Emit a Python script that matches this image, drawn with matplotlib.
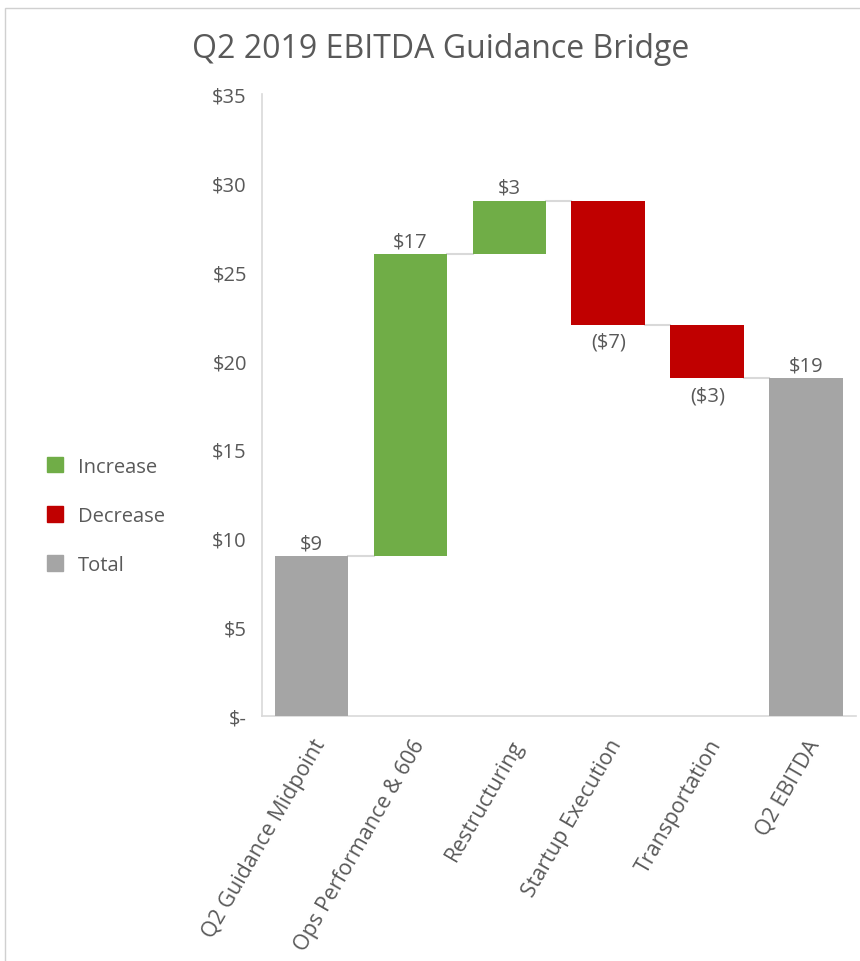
import matplotlib
matplotlib.use('Agg')
import matplotlib.pyplot as plt
from matplotlib.patches import Patch, Rectangle

# Chart data
categories = ['Q2 Guidance Midpoint', 'Ops Performance & 606', 'Restructuring',
              'Startup Execution', 'Transportation', 'Q2 EBITDA']
changes = [9, 17, 3, -7, -3, 19]
kinds = ['total', 'inc', 'inc', 'dec', 'dec', 'total']
bar_labels = ['$9', '$17', '$3', '($7)', '($3)', '$19']
y_ticks = [0, 5, 10, 15, 20, 25, 30, 35]
y_tick_labels = ['$-', '$5', '$10', '$15', '$20', '$25', '$30', '$35']

colors = {'inc': '#70ad47', 'dec': '#c00000', 'total': '#a5a5a5'}
text_color = '#595959'
fs = 14.5
plt.rcParams['font.family'] = ['Open Sans', 'DejaVu Sans']

fig = plt.figure(figsize=(8.6, 9.62), dpi=100)
ax = fig.add_axes([0.3047, 0.2547, 0.6903, 0.6465])

# Work out bottoms / heights for the waterfall
bottoms, heights, ends = [], [], []
level = 0
for val, kind in zip(changes, kinds):
    if kind == 'total':
        bottoms.append(0)
        heights.append(val)
        level = val
    else:
        new_level = level + val
        bottoms.append(min(level, new_level))
        heights.append(abs(val))
        level = new_level
    ends.append(level)

width = 0.745
x = list(range(len(categories)))
ax.bar(x, heights, bottom=bottoms, width=width,
       color=[colors[k] for k in kinds], zorder=3)

# connector lines
for i in range(len(x) - 1):
    ax.plot([x[i] + width / 2, x[i + 1] - width / 2], [ends[i], ends[i]],
            color='#d9d9d9', lw=1.5, zorder=2)

# value labels
for i, (lab, kind) in enumerate(zip(bar_labels, kinds)):
    if kind == 'dec':
        ax.annotate(lab, (x[i], bottoms[i]), xytext=(0, -5), textcoords='offset points',
                    ha='center', va='top', fontsize=fs, color=text_color)
    else:
        ax.annotate(lab, (x[i], bottoms[i] + heights[i]), xytext=(0, 2),
                    textcoords='offset points', ha='center', va='bottom',
                    fontsize=fs, color=text_color)

ax.set_xlim(-0.5, len(categories) - 0.5)
ax.set_ylim(0, 35)
ax.set_yticks(y_ticks)
ax.set_yticklabels(y_tick_labels, fontsize=fs, color=text_color)
ax.set_xticks(x)
ax.set_xticklabels(categories, rotation=60, ha='right', rotation_mode='anchor',
                   fontsize=15.5, color=text_color)
ax.tick_params(axis='both', length=0)
ax.tick_params(axis='y', pad=11)
ax.tick_params(axis='x', pad=14)
for s in ['top', 'right']:
    ax.spines[s].set_visible(False)
for s in ['left', 'bottom']:
    ax.spines[s].set_color('#d9d9d9')
    ax.spines[s].set_linewidth(1.2)

fig.suptitle('Q2 2019 EBITDA Guidance Bridge', x=0.512, y=0.966, fontsize=23,
             color=text_color)

handles = [Patch(color=colors['inc'], label='Increase'),
           Patch(color=colors['dec'], label='Decrease'),
           Patch(color=colors['total'], label='Total')]
fig.legend(handles=handles, loc='center left', bbox_to_anchor=(0.034, 0.4626),
           frameon=False, fontsize=fs, labelcolor=text_color,
           handlelength=0.8, handleheight=0.8, handletextpad=0.7,
           labelspacing=1.45)

# outer border
fig.add_artist(Rectangle((0.006, -0.01), 1.1, 1 - 9 / 962 + 0.01,
                         transform=fig.transFigure, fill=False,
                         edgecolor='#d0d0d0', lw=1))

fig.savefig('out.png', dpi=100, facecolor='white')
